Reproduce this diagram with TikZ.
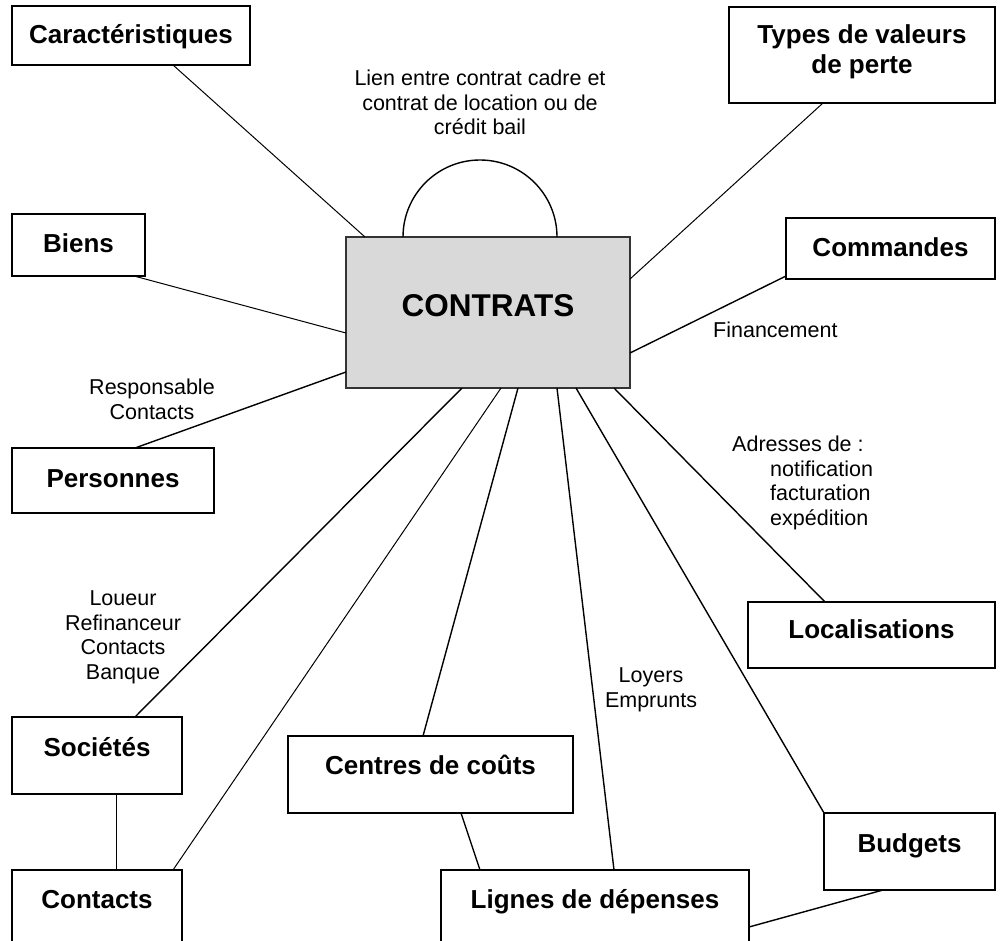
\documentclass[tikz,border=0pt]{standalone}
\usepackage{fontspec}
\setmainfont{Liberation Sans}
\begin{document}
\begin{tikzpicture}[x=1pt,y=-1pt,
  box/.style={draw=black, line width=1.6pt, fill=white, anchor=north west, outer sep=0pt, inner sep=0pt},
  centre/.style={box, fill=black!15, line width=1.4pt, draw=black!80},
  title/.style={font=\bfseries\fontsize{26}{30}\selectfont, anchor=base, inner sep=0pt, align=center},
  lbl/.style={font=\fontsize{21.5}{24.5}\selectfont, inner sep=0pt},
  thin/.style={line width=1pt},
  link/.style={line width=1.4pt}]
\useasboundingbox (0,0) rectangle (1000,941);
\clip (0,0) rectangle (1000,941);

% boxes
\node[box, minimum width=238pt, minimum height=59pt] (car) at (12,6) {};
\node[box, minimum width=133pt, minimum height=62pt] (biens) at (12,214) {};
\node[box, minimum width=266pt, minimum height=96pt] (types) at (729,7) {};
\node[box, minimum width=209pt, minimum height=61pt] (cmd) at (786,218) {};
\node[centre, minimum width=284pt, minimum height=151pt] (C) at (346,237) {};
\node[box, minimum width=202pt, minimum height=65pt] (pers) at (12,448) {};
\node[box, minimum width=247pt, minimum height=66pt] (loc) at (748,602) {};
\node[box, minimum width=170pt, minimum height=77pt] (soc) at (12,717) {};
\node[box, minimum width=285pt, minimum height=77pt] (cen) at (288,736) {};
\node[box, minimum width=171pt, minimum height=77pt] (bud) at (824,813) {};
\node[box, minimum width=170pt, minimum height=95pt] (cont) at (12,870) {};
\node[box, minimum width=308pt, minimum height=95pt] (lig) at (441,870) {};

% titles
\node[title] (tcar) at ([yshift=-38pt]car.north) {Caractéristiques};
\node[title] (tbiens) at ([yshift=-38pt]biens.north) {Biens};
\node[title] (ttypes) at ([yshift=-67pt]types.north) {Types de valeurs\\de perte};
\node[title] (tcmd) at ([yshift=-38pt]cmd.north) {Commandes};
\node[title, font=\bfseries\fontsize{31.5}{36}\selectfont] (tC) at ([yshift=-79pt]C.north) {CONTRATS};
\node[title] (tpers) at ([yshift=-39pt]pers.north) {Personnes};
\node[title] (tloc) at ([yshift=-36pt]loc.north) {Localisations};
\node[title] (tsoc) at ([yshift=-39pt]soc.north) {Sociétés};
\node[title] (tcen) at ([yshift=-38pt]cen.north) {Centres de coûts};
\node[title] (tbud) at ([yshift=-39pt]bud.north) {Budgets};
\node[title] (tcont) at ([yshift=-38pt]cont.north) {Contacts};
\node[title] (tlig) at ([yshift=-38pt]lig.north) {Lignes de dépenses};

% connectors
\draw[thin] ([xshift=161pt]car.south west) -- ([xshift=19pt]C.north west);
\draw[thin] ([xshift=-11pt]biens.south east) -- ([yshift=-96pt]C.north west);
\draw[link] ([xshift=123pt]pers.north west) -- ([yshift=16pt]C.south west);
\draw[thin] ([xshift=94pt]types.south west) -- ([yshift=-42pt]C.north east);
\draw[link] ([yshift=3pt]cmd.south west) -- ([yshift=35pt]C.south east);
\draw[link] ([xshift=-16pt]C.south east) -- ([xshift=77pt]loc.north west);
\draw[link] ([xshift=-54pt]C.south east) -- (bud.north west);
\draw[link] ([xshift=-73pt]C.south east) -- ([xshift=173pt]lig.north west);
\draw[link] ([xshift=172pt]C.south west) -- ([xshift=135pt]cen.north west);
\draw[thin] ([xshift=155pt]C.south west) -- ([xshift=-9pt]cont.north east);
\draw[link] ([xshift=116pt]C.south west) -- ([xshift=123pt]soc.north west);
\draw[thin] ([xshift=104pt]soc.south west) -- ([xshift=104pt]cont.north west);
\draw[link] ([xshift=173pt]cen.south west) -- ([xshift=39pt]lig.north west);
\draw[link] ([yshift=-57pt]lig.north east) -- ([xshift=59pt]bud.south west);
\draw[link] ([xshift=57pt]C.north west) arc[start angle=180, end angle=0, radius=77pt];

% labels (base anchor = baseline of last line)
\node[lbl, align=center, anchor=base] (lien) at (480,135) {Lien entre contrat cadre et\\contrat de location ou de\\crédit bail};
\node[lbl, align=center, anchor=base] (resp) at (152,419) {Responsable\\Contacts};
\node[lbl, align=center, anchor=base] (loueur) at (123,679) {Loueur\\Refinanceur\\Contacts\\Banque};
\node[lbl, align=left, anchor=base west] (adr) at (732,525) {Adresses de :\\\hspace*{38pt}notification\\\hspace*{38pt}facturation\\\hspace*{38pt}expédition};
\node[lbl, align=center, anchor=base] (loy) at (651,707) {Loyers\\Emprunts};
\node[lbl, anchor=base west] (fin) at (713,337) {Financement};
\end{tikzpicture}
\end{document}
